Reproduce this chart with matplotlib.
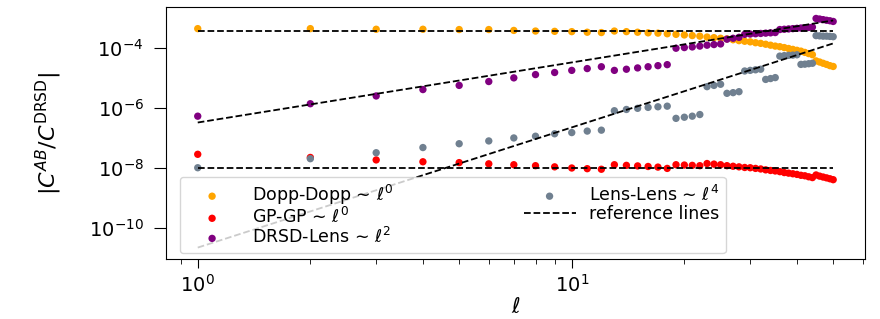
import numpy as np
import matplotlib
matplotlib.use("Agg")
import matplotlib.pyplot as plt

ell = list(range(1, 51))

dopp_dopp = [4.27e-4, 4.27e-4, 4.07e-4, 4.07e-4, 3.98e-4, 3.98e-4, 3.72e-4, 3.55e-4, 3.47e-4, 3.39e-4,
             3.24e-4, 3.16e-4, 3.55e-4, 3.39e-4, 3.24e-4, 3.09e-4, 3.02e-4, 2.88e-4, 2.75e-4, 2.63e-4,
             2.51e-4, 2.40e-4, 2.24e-4, 2.14e-4, 2.04e-4, 1.95e-4, 1.82e-4, 1.70e-4, 1.62e-4, 1.55e-4,
             1.45e-4, 1.38e-4, 1.29e-4, 1.20e-4, 1.12e-4, 1.07e-4, 1.00e-4, 9.3e-5, 8.7e-5, 8.1e-5,
             7.6e-5, 6.9e-5, 6.3e-5, 5.8e-5, 3.6e-5, 3.3e-5, 3.0e-5, 2.75e-5, 2.5e-5, 2.35e-5]

gp_gp = [2.8e-8, 2.2e-8, 1.82e-8, 1.58e-8, 1.48e-8, 1.35e-8, 1.26e-8, 1.17e-8, 1.07e-8, 9.8e-9,
         9.3e-9, 8.9e-9, 1.26e-8, 1.20e-8, 1.15e-8, 1.10e-8, 1.05e-8, 9.5e-9, 1.26e-8, 1.23e-8,
         1.20e-8, 1.17e-8, 1.38e-8, 1.32e-8, 1.26e-8, 1.17e-8, 1.12e-8, 1.07e-8, 1.02e-8, 1.0e-8,
         9.5e-9, 9.1e-9, 8.5e-9, 8.1e-9, 7.8e-9, 7.4e-9, 6.9e-9, 6.6e-9, 6.3e-9, 6.0e-9,
         5.6e-9, 5.4e-9, 5.0e-9, 4.7e-9, 5.75e-9, 5.25e-9, 4.9e-9, 4.6e-9, 4.3e-9, 4.0e-9]

drsd_lens = [5.2e-7, 1.35e-6, 2.45e-6, 4.0e-6, 5.5e-6, 7.4e-6, 9.8e-6, 1.26e-5, 1.48e-5, 1.74e-5,
             2.0e-5, 2.3e-5, 1.74e-5, 1.9e-5, 2.1e-5, 2.3e-5, 2.5e-5, 2.7e-5, 9.5e-5, 1.0e-4,
             1.05e-4, 1.12e-4, 1.2e-4, 1.26e-4, 1.32e-4, 1.9e-4, 2.04e-4, 2.19e-4, 2.75e-4, 2.82e-4,
             2.88e-4, 2.95e-4, 3.02e-4, 3.09e-4, 3.16e-4, 3.98e-4, 4.07e-4, 4.17e-4, 4.27e-4, 4.37e-4,
             4.47e-4, 4.57e-4, 4.68e-4, 4.79e-4, 9.3e-4, 8.9e-4, 8.5e-4, 8.1e-4, 7.8e-4, 7.4e-4]

lens_lens = [1.0e-8, 2.0e-8, 3.16e-8, 4.7e-8, 6.3e-8, 7.8e-8, 9.8e-8, 1.12e-7, 1.35e-7, 1.48e-7,
             1.66e-7, 1.78e-7, 7.9e-7, 8.7e-7, 9.5e-7, 1.02e-6, 1.07e-6, 1.12e-6, 4.4e-7, 4.8e-7,
             5.2e-7, 5.9e-7, 5.0e-6, 5.5e-6, 6.0e-6, 3.0e-6, 3.16e-6, 3.4e-6, 1.66e-5, 1.74e-5,
             1.82e-5, 1.9e-5, 8.7e-6, 9.3e-6, 1.0e-5, 5.2e-5, 5.4e-5, 5.5e-5, 5.6e-5, 5.75e-5,
             2.75e-5, 2.8e-5, 2.9e-5, 3.0e-5, 2.5e-4, 2.45e-4, 2.4e-4, 2.4e-4, 2.35e-4, 2.3e-4]

series_labels = ['Dopp-Dopp \u223c $\\ell^0$', 'GP-GP \u223c $\\ell^0$',
                 'DRSD-Lens \u223c $\\ell^2$', 'Lens-Lens \u223c $\\ell^4$']
series_colors = ['orange', 'red', 'purple', 'slategray']

# reference power laws: amplitude at ell=1 and power
ref_amplitudes = [3.55e-4, 1.0e-8, 3.2e-7, 2.2e-11]
ref_powers = [0, 0, 2, 4]

y_ticks = [1e-10, 1e-8, 1e-6, 1e-4]
x_ticks = [1, 10]

fig = plt.figure(figsize=(8.8, 3.19), dpi=100)
ax = fig.add_axes([0.1886, 0.188, 0.7943, 0.790])

for vals, lab, col in zip([dopp_dopp, gp_gp, drsd_lens, lens_lens], series_labels, series_colors):
    ax.scatter(ell, vals, s=28, color=col, label=lab, edgecolors='none')

ell_arr = np.array(ell, dtype=float)
for i, (a, p) in enumerate(zip(ref_amplitudes, ref_powers)):
    ax.plot(ell_arr, a * ell_arr ** p, 'k--', lw=1.3,
            label='reference lines' if i == 0 else None)

ax.set_xscale('log')
ax.set_yscale('log')
ax.yaxis.set_major_locator(matplotlib.ticker.FixedLocator(y_ticks))
ax.yaxis.set_minor_locator(matplotlib.ticker.NullLocator())
ax.xaxis.set_major_locator(matplotlib.ticker.FixedLocator(x_ticks))
ax.xaxis.set_minor_formatter(matplotlib.ticker.NullFormatter())
ax.tick_params(axis='y', which='major', labelsize=14, length=9, pad=7)
ax.tick_params(axis='x', which='major', labelsize=14, length=6.5, pad=4)
ax.tick_params(axis='x', which='minor', length=3.5)
ax.set_xlabel(r'$\ell$', fontsize=15, labelpad=1)
ax.set_ylabel(r'$|C^{AB}/C^{\rm DRSD}|$', fontsize=16, labelpad=18)

W = 865 - 166
H = 259 - 7
ax.legend(ncol=2, loc='lower left', bbox_to_anchor=((180 - 166) / W, (259 - 253) / H),
          borderaxespad=0, fontsize=12.5, labelspacing=0.0, handlelength=3.0,
          handletextpad=0.8, columnspacing=7.5, borderpad=0.35)

fig.savefig('out.png', dpi=100)
